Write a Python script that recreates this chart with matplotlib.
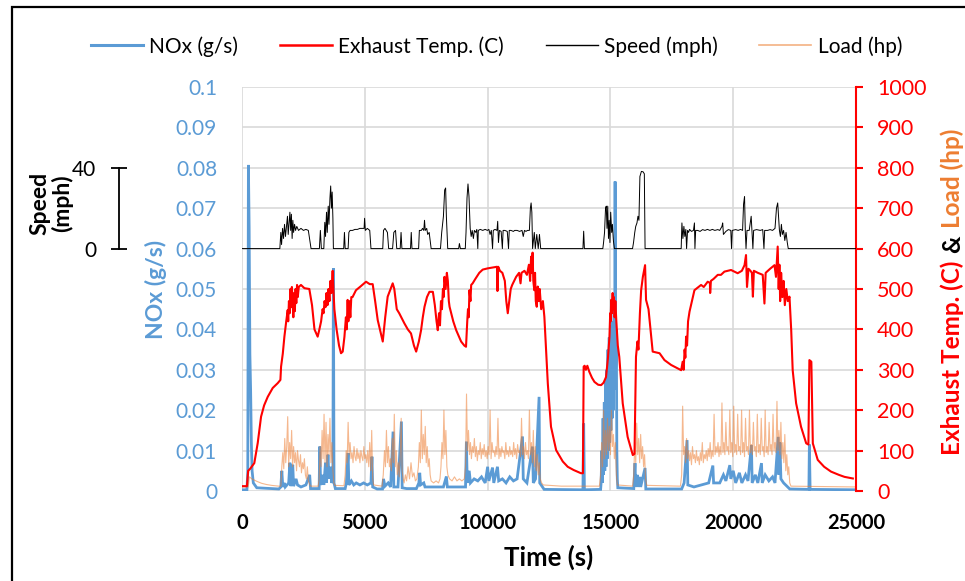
import matplotlib
matplotlib.use("Agg")
import matplotlib.pyplot as plt
from matplotlib.patches import Rectangle

plt.rcParams['font.family'] = 'Lato'

BLUE = '#5B9BD5'
RED = '#FF0000'
ORANGE = '#ED7D31'

# ---------------- data ----------------
nox_t = [0, 200, 235, 260, 290, 320, 350, 380, 410, 460, 600, 1500, 1580, 1620, 1660, 1720, 1760,
         1900, 1950, 1990, 2065, 2100, 2200, 2260, 2400, 2600, 2755, 2790, 3140, 3165, 3200, 3300,
         3330, 3400, 3440, 3500, 3540, 3600, 3650, 3700, 3720, 3745, 3800, 4200, 4250, 4320, 4350,
         4450, 4550, 4650, 4800, 4950, 5100, 5250, 5290, 5320, 5500, 5720, 5760, 5820, 5950, 6050,
         6150, 6180, 6350, 6490, 6520, 6700, 7100, 7200, 7235, 7270, 7400, 7450, 7650, 8200, 8320,
         8360, 9100, 9135, 9170, 9250, 9300, 9450, 9600, 9750, 9900, 10000, 10050, 10200, 10250,
         10400, 10450, 10600, 10750, 10900, 11050, 11200, 11420, 11450, 11600, 11825, 11860, 11950,
         12095, 12120, 12300, 13880, 13910, 13940, 14600,
         14620, 14650, 14670, 14700, 14720, 14750, 14770, 14800, 14820, 14850, 14870, 14900, 14920,
         14950, 14970, 15000, 15020, 15050, 15070, 15100, 15120, 15150, 15170, 15190, 15210, 15240,
         15260, 15280, 15300, 15950, 16000, 16030, 16100, 16130, 16200, 16230, 16410, 16440, 17900,
         18000, 18120, 18150, 18400, 18700, 19000, 19170, 19200, 19450, 19600, 19700, 19860, 19900,
         20000, 20100, 20250, 20350, 20500, 20600, 20740, 20770, 20900, 21000, 21150, 21180, 21300,
         21450, 21600, 21700, 21830, 21860, 21900, 21940, 22050, 22300, 23080, 23100, 23130, 25000]
nox_gs = [0.0003, 0.0003, 0.005, 0.0807, 0.065, 0.034, 0.025, 0.012, 0.005, 0.002, 0.0008, 0.0005,
          0.001, 0.005, 0.001, 0.002, 0.001, 0.002, 0.007, 0.0012, 0.0065, 0.0012, 0.003, 0.0015,
          0.001, 0.0015, 0.004, 0.0006, 0.0006, 0.011, 0.0015, 0.004, 0.0015, 0.007, 0.002, 0.009,
          0.003, 0.006, 0.002, 0.003, 0.0551, 0.002, 0.0006, 0.0006, 0.002, 0.0094, 0.0015, 0.0025,
          0.0015, 0.002, 0.0015, 0.002, 0.0015, 0.002, 0.0085, 0.001, 0.0005, 0.0005, 0.003, 0.0012,
          0.002, 0.001, 0.0147, 0.001, 0.001, 0.0172, 0.0008, 0.0006, 0.0006, 0.002, 0.0045, 0.0015,
          0.002, 0.001, 0.001, 0.001, 0.0036, 0.001, 0.001, 0.0122, 0.002, 0.005, 0.002, 0.003,
          0.0025, 0.0035, 0.002, 0.006, 0.0025, 0.0058, 0.002, 0.006, 0.0025, 0.003, 0.002, 0.0035,
          0.0025, 0.003, 0.0135, 0.003, 0.002, 0.011, 0.002, 0.003, 0.0233, 0.002, 0.0004, 0.0003,
          0.0167, 0.0003, 0.0004,
          0.002, 0.01, 0.002, 0.018, 0.004, 0.022, 0.005, 0.027, 0.006, 0.03, 0.008, 0.035, 0.01,
          0.038, 0.012, 0.04, 0.015, 0.041, 0.018, 0.042, 0.02, 0.045, 0.025, 0.0766, 0.03, 0.04,
          0.01, 0.003, 0.0008, 0.0006, 0.0069, 0.001, 0.004, 0.001, 0.0035, 0.001, 0.0057, 0.0005,
          0.0005, 0.002, 0.0126, 0.0015, 0.001, 0.0015, 0.002, 0.0063, 0.002, 0.002, 0.004, 0.0025,
          0.0064, 0.003, 0.005, 0.002, 0.0045, 0.002, 0.004, 0.0025, 0.0114, 0.002, 0.004, 0.002,
          0.0069, 0.002, 0.004, 0.0025, 0.0035, 0.002, 0.0134, 0.004, 0.012, 0.003, 0.002, 0.0005,
          0.0004, 0.0115, 0.0004, 0.0003]

temp_t = [0, 200, 250, 330, 500, 640, 775, 900, 1046, 1250, 1454, 1563, 1590, 1660, 1725, 1800,
          1860, 1880, 1910, 1940, 1970, 2000, 2030, 2060, 2090, 2120, 2150, 2180, 2210, 2240, 2270,
          2310, 2400, 2540, 2740, 2850, 2950, 3080, 3150, 3220, 3280, 3320, 3360, 3400, 3440, 3480,
          3520, 3560, 3600, 3640, 3690, 3720, 3760, 3850, 3950, 4030, 4100, 4170, 4230, 4260, 4300,
          4330, 4370, 4410, 4450, 4500, 4640, 4800, 5050, 5200, 5320, 5420, 5525, 5650, 5730, 5830,
          5930, 6135, 6200, 6300, 6400, 6540, 6610, 6750, 6880, 7000, 7090, 7200, 7290, 7360, 7430,
          7530, 7630, 7770, 7850, 7920, 7970, 8020, 8060, 8100, 8140, 8180, 8210, 8240, 8290, 8340,
          8380, 8420, 8450, 8600, 8720, 8920, 9050, 9120, 9170, 9200, 9230, 9260, 9300, 9330, 9390,
          9500, 9660, 9800, 10000, 10200, 10380, 10400, 10430, 10500, 10600, 10700, 10760, 10820,
          10880, 10940, 11000, 11160, 11280, 11340, 11380, 11500, 11600, 11680, 11730, 11770, 11800,
          11830, 11860, 11900, 11930, 11960, 12000, 12040, 12080, 12120, 12180, 12250, 12310, 12380,
          12450, 12580, 12790, 13060, 13260, 13500, 13800, 13880, 13910, 13950, 14000, 14060, 14140,
          14250, 14350, 14500, 14620, 14720, 14820, 14900, 14960, 14990, 15010, 15030, 15060, 15090,
          15110, 15140, 15170, 15200, 15240, 15300, 15360, 15500, 15700, 15910, 15980, 16040, 16100,
          16140, 16200, 16250, 16320, 16410, 16450, 16550, 16720, 17000, 17200, 17470, 17880, 17940,
          17980, 18020, 18050, 18080, 18120, 18160, 18220, 18420, 18690, 18800, 18960, 19050, 19060,
          19090, 19200, 19370, 19500, 19640, 19910, 20180, 20350, 20460, 20520, 20560, 20620, 20700,
          20760, 20800, 20840, 21000, 21200, 21270, 21320, 21500, 21680, 21740, 21810, 21850, 21880,
          21910, 21950, 22000, 22050, 22100, 22160, 22220, 22290, 22360, 22420, 22560, 22760, 22970,
          23060, 23100, 23180, 23240, 23440, 23700, 23980, 24300, 24530, 24870]
temp_c = [12, 12, 50, 55, 69, 119, 184, 212, 233, 255, 267, 275, 308, 340, 382, 420, 448, 420, 470,
          440, 500, 455, 505, 470, 430, 490, 445, 500, 465, 510, 480, 505, 510, 502, 500, 460, 400,
          382, 400, 420, 450, 440, 470, 455, 490, 460, 500, 470, 520, 490, 545, 500, 450, 400, 360,
          341, 345, 382, 430, 400, 473, 420, 470, 430, 480, 480, 497, 505, 518, 512, 512, 470, 423,
          390, 370, 430, 481, 514, 500, 450, 440, 423, 415, 400, 390, 360, 345, 370, 398, 430, 456,
          480, 493, 493, 460, 420, 398, 440, 410, 470, 450, 500, 480, 530, 500, 540, 520, 470, 456,
          420, 398, 370, 360, 357, 420, 450, 430, 497, 470, 510, 514, 525, 540, 548, 551, 553, 555,
          495, 555, 545, 540, 520, 470, 440, 470, 500, 510, 530, 540, 514, 540, 545, 535, 560, 520,
          580, 540, 590, 520, 497, 540, 470, 456, 506, 470, 500, 450, 470, 431, 349, 266, 159, 101,
          73, 60, 52, 44, 44, 308, 310, 300, 310, 295, 280, 270, 263, 262, 268, 282, 330, 382, 440,
          420, 473, 440, 490, 450, 480, 430, 470, 420, 360, 332, 217, 134, 89, 92, 332, 370, 350,
          440, 497, 530, 559, 473, 450, 345, 341, 324, 312, 299, 320, 300, 350, 330, 382, 360, 420,
          444, 497, 510, 505, 518, 515, 490, 520, 525, 535, 535, 543, 547, 539, 545, 559, 584, 505,
          550, 545, 540, 481, 545, 540, 535, 464, 540, 550, 559, 530, 605, 500, 560, 470, 540, 480,
          520, 460, 500, 470, 481, 398, 299, 217, 159, 118, 115, 324, 320, 118, 77, 60, 48, 40, 35,
          31]

speed_t = [0, 1540, 1580, 1610, 1650, 1690, 1730, 1770, 1810, 1850, 1880, 1920, 1950, 1980, 2010,
           2040, 2070, 2100, 2140, 2180, 2230, 2300, 2400, 2500, 2600, 2700, 2760, 2810, 3150, 3190,
           3230, 3330, 3370, 3400, 3440, 3470, 3510, 3540, 3580, 3610, 3640, 3670, 3700, 3720, 4140,
           4170, 4200, 4320, 4350, 4400, 4500, 4600, 4700, 4800, 4900, 4970, 4990, 5020, 5100, 5200,
           5250, 5730, 5760, 5820, 5870, 5920, 5970, 6130, 6180, 6250, 6300, 6440, 6475, 6510, 6860,
           6890, 6920, 7190, 7220, 7300, 7350, 7400, 7430, 7460, 7520, 7560, 7620, 7700, 8080, 8130,
           8200, 8250, 8290, 8320, 8375, 8820, 8850, 8890, 9090, 9120, 9160, 9200, 9240, 9290, 9330,
           9370, 9420, 9460, 9520, 9560, 9600, 9620, 9700, 9800, 9900, 9990, 10050, 10100, 10150,
           10200, 10230, 10300, 10380, 10410, 10440, 10480, 10550, 10600, 10630, 10700, 10800, 10850,
           10880, 10950, 11050, 11100, 11200, 11300, 11400, 11450, 11500, 11560, 11620, 11700, 11740,
           11770, 11800, 11830, 11900, 11940, 12000, 12060, 12110, 12160, 12310, 13880, 13910, 13940,
           14690, 14720, 14760, 14800, 14830, 14860, 14890, 14920, 14950, 14980, 15010, 15050, 15080,
           15120, 15160, 15900, 15940, 15990, 16030, 16080, 16120, 16160, 16200, 16260, 16330, 16380,
           16410, 17880, 17910, 17950, 17990, 18030, 18070, 18100, 18140, 18180, 18220, 18300, 18380,
           18420, 18440, 18470, 18550, 18650, 18750, 18850, 18950, 19050, 19150, 19250, 19370, 19450,
           19540, 19570, 19600, 19700, 19800, 19900, 19930, 19960, 20100, 20200, 20300, 20380, 20420,
           20460, 20490, 20520, 20560, 20650, 20730, 20760, 20800, 20830, 20950, 21100, 21200, 21250,
           21280, 21400, 21500, 21600, 21700, 21760, 21810, 21850, 21880, 21920, 21960, 22000, 22050,
           22100, 22150, 22200, 22240, 25000]
speed_mph = [0, 0, 8, 2, 10, 5, 12, 6, 11, 16, 7, 13, 18, 9, 17, 5, 14, 8, 12, 9, 11, 9, 10, 9,
             9.5, 9, 4, 0, 0, 9, 0, 0, 13, 6, 18, 8, 21, 12, 25, 31, 20, 28, 15, 0, 0, 8, 0, 0, 8, 9,
             9, 9.5, 9.5, 10, 10, 10, 15, 9, 10, 9, 0, 0, 9, 10, 9, 8, 0, 0, 8, 9, 0, 0, 8, 0, 0, 8,
             0, 0, 9, 9, 10, 9, 14, 9, 10, 7, 8, 0, 0, 8, 16, 29, 30, 16, 0, 0, 2.5, 0, 0, 8, 25, 32,
             26, 10, 6, 9, 5, 9, 8, 9.5, 0, 9, 9.5, 9, 9.5, 9, 9.5, 7, 9, 0, 9, 9.5, 9, 13.5, 3, 9,
             8.5, 0, 9, 9, 8.5, 0, 9, 9, 8.5, 9, 9, 8.5, 9, 6, 9, 8.5, 9, 9, 20, 22.6, 18, 0, 8, 0,
             7, 0, 7, 0, 0, 0, 8.6, 0, 0, 3, 8, 20, 21, 10, 21, 5, 14, 3, 18, 8, 12, 4, 0, 0, 3, 8,
             11, 12.7, 16, 14, 35.7, 38.2, 38, 37, 0, 0, 12.7, 5, 11, 6, 9.5, 0, 9, 8, 9.5, 8.5, 9,
             12.7, 0, 9, 9, 8.5, 9.4, 9, 9.5, 9, 9.5, 9, 9.4, 9, 11, 12.7, 7, 8.5, 9.4, 9, 0, 9, 9.4,
             9, 9.5, 9, 22, 25.8, 9, 0, 9, 9, 16, 9, 0, 9, 9.4, 9, 9.4, 0, 9, 9, 9.4, 9, 10, 20,
             22.6, 15, 9, 6, 12, 7, 9, 4, 8, 3, 0, 0]

load_t = [0, 250, 300, 400, 600, 800, 1000, 1200, 1500, 1580, 1620, 1660, 1700, 1740, 1780, 1820,
          1860, 1900, 1940, 1980, 2020, 2060, 2100, 2140, 2180, 2220, 2260, 2300, 2340, 2380, 2420,
          2460, 2500, 2540, 2580, 2620, 2660, 2700, 2760, 2800, 3100, 3140, 3180, 3220, 3260, 3300,
          3340, 3380, 3420, 3460, 3500, 3540, 3580, 3620, 3660, 3700, 3740, 3780, 4150, 4200, 4240,
          4280, 4320, 4360, 4400, 4440, 4480, 4520, 4560, 4600, 4640, 4680, 4720, 4760, 4800, 4840,
          4880, 4920, 4960, 5000, 5040, 5080, 5120, 5160, 5200, 5240, 5280, 5320, 5360, 5700, 5750,
          5800, 5840, 5880, 5920, 5960, 6000, 6040, 6080, 6120, 6160, 6200, 6240, 6280, 6320, 6360,
          6400, 6440, 6480, 6520, 6560, 6600, 6650, 6700, 6760, 6820, 6880, 6940, 7000, 7060, 7120,
          7180, 7220, 7260, 7300, 7340, 7380, 7420, 7460, 7500, 7540, 7580, 7620, 7660, 7700, 7800,
          7900, 8000, 8060, 8100, 8140, 8180, 8220, 8260, 8300, 8340, 8380, 8450, 8550, 8650, 8750,
          8850, 8950, 9050, 9100, 9140, 9180, 9220, 9260, 9300, 9340, 9380, 9420, 9460, 9500, 9540,
          9580, 9620, 9660, 9700, 9740, 9780, 9820, 9860, 9900, 9940, 9980, 10020, 10060, 10100,
          10140, 10180, 10220, 10260, 10300, 10340, 10380, 10420, 10460, 10500, 10540, 10580, 10620,
          10660, 10700, 10740, 10780, 10820, 10860, 10900, 10940, 10980, 11020, 11060, 11100, 11140,
          11180, 11220, 11260, 11300, 11340, 11380, 11420, 11460, 11500, 11540, 11580, 11620, 11660,
          11700, 11740, 11780, 11820, 11860, 11900, 11940, 11980, 12020, 12060, 12100, 12140, 12200,
          12260, 13000, 14000, 14550, 14600, 14640, 14680, 14720, 14760, 14800, 14840, 14880, 14920,
          14960, 15000, 15040, 15080, 15120, 15160, 15200, 15240, 15280, 15900, 15950, 15990, 16030,
          16070, 16110, 16150, 16190, 16230, 16270, 16310, 16350, 16390, 16430, 16480, 17850, 17900,
          17940, 17980, 18020, 18060, 18100, 18140, 18180, 18220, 18260, 18300, 18340, 18380, 18420,
          18460, 18500, 18540, 18580, 18620, 18660, 18700, 18740, 18780, 18820, 18860, 18900, 18940,
          18980, 19020, 19060, 19100, 19140, 19180, 19220, 19260, 19300, 19340, 19380, 19420, 19460,
          19500, 19540, 19580, 19620, 19660, 19700, 19740, 19780, 19820, 19860, 19900, 19940, 19980,
          20020, 20060, 20100, 20140, 20180, 20220, 20260, 20300, 20340, 20380, 20420, 20460, 20500,
          20540, 20580, 20620, 20660, 20700, 20740, 20780, 20820, 20860, 20900, 20940, 20980, 21020,
          21060, 21100, 21140, 21180, 21220, 21260, 21300, 21340, 21380, 21420, 21460, 21500, 21540,
          21580, 21620, 21660, 21700, 21740, 21780, 21820, 21860, 21900, 21940, 21980, 22020, 22060,
          22100, 22140, 22180, 22220, 22260, 22300, 22350, 25000]
load_hp = [10, 10, 35, 30, 24, 19, 16, 14, 12, 12, 60, 95, 55, 130, 70, 110, 184, 60, 120, 80, 150,
           60, 110, 70, 95, 50, 100, 75, 60, 90, 45, 70, 55, 80, 40, 30, 60, 25, 15, 12, 12, 30, 110,
           60, 150, 80, 190, 70, 170, 60, 140, 90, 180, 70, 120, 50, 20, 14, 13, 40, 100, 70, 170,
           90, 120, 80, 95, 70, 110, 85, 75, 105, 80, 95, 70, 100, 85, 75, 110, 80, 90, 70, 100, 60,
           120, 50, 150, 30, 15, 12, 40, 100, 60, 150, 70, 110, 60, 80, 50, 130, 70, 190, 60, 100,
           40, 70, 35, 90, 180, 50, 30, 20, 40, 25, 60, 30, 70, 35, 45, 25, 30, 60, 120, 70, 200, 80,
           140, 90, 160, 70, 110, 60, 80, 40, 25, 20, 25, 20, 30, 60, 120, 80, 200, 90, 150, 60, 40,
           30, 25, 35, 25, 30, 25, 30, 60, 240, 100, 150, 90, 120, 80, 110, 95, 130, 85, 110, 75,
           100, 90, 120, 80, 105, 90, 115, 85, 100, 80, 110, 90, 200, 80, 120, 95, 100, 85, 110, 90,
           180, 80, 105, 85, 110, 95, 100, 80, 120, 90, 100, 85, 110, 90, 100, 85, 120, 90, 105, 80,
           115, 95, 100, 85, 180, 90, 110, 80, 120, 90, 100, 80, 200, 90, 120, 70, 150, 60, 110, 50,
           90, 40, 70, 30, 20, 15, 12, 12, 12, 40, 120, 60, 200, 80, 150, 90, 180, 100, 160, 90, 200,
           110, 140, 80, 120, 40, 15, 12, 40, 120, 70, 168, 90, 130, 70, 140, 80, 110, 60, 90, 30,
           14, 12, 40, 210, 90, 110, 70, 130, 80, 100, 75, 95, 65, 110, 80, 90, 70, 100, 75, 85, 65,
           95, 75, 120, 70, 90, 80, 100, 75, 105, 85, 120, 80, 100, 85, 190, 90, 110, 95, 120, 85,
           110, 90, 218, 95, 120, 90, 170, 100, 110, 90, 200, 95, 120, 85, 210, 95, 115, 90, 190,
           100, 110, 90, 200, 95, 120, 85, 180, 100, 110, 90, 200, 95, 115, 90, 170, 100, 110, 85,
           190, 95, 115, 90, 180, 100, 110, 85, 200, 95, 110, 90, 170, 100, 115, 90, 190, 100, 120,
           95, 222, 100, 150, 90, 170, 80, 120, 70, 140, 50, 90, 40, 60, 20, 12, 10]

time_ticks = [0, 5000, 10000, 15000, 20000, 25000]
nox_ticks = [0, 0.01, 0.02, 0.03, 0.04, 0.05, 0.06, 0.07, 0.08, 0.09, 0.1]
nox_labels = ['0', '0.01', '0.02', '0.03', '0.04', '0.05', '0.06', '0.07', '0.08', '0.09', '0.1']
temp_ticks = [0, 100, 200, 300, 400, 500, 600, 700, 800, 900, 1000]

# ---------------- figure ----------------
fig = plt.figure(figsize=(9.65, 5.81), dpi=100)
fig.patches.append(Rectangle((12 / 965, -0.1), 1.2, 1.1 - 7 / 581, transform=fig.transFigure,
                             fill=False, edgecolor='black', linewidth=1.6))

ax = fig.add_axes([0.2508, 0.1549, 0.6363, 0.6954])
ax.plot(nox_t, nox_gs, color=BLUE, linewidth=2.0, solid_joinstyle='miter')
ax.set_xlim(0, 25000)
ax.set_ylim(0, 0.1)
ax.set_xticks(time_ticks)
ax.set_yticks(nox_ticks)
ax.set_yticklabels(nox_labels)
ax.grid(True, color='#D9D9D9', linewidth=1.2)
ax.set_axisbelow(True)
for s in ax.spines.values():
    s.set_visible(False)
ax.tick_params(axis='y', length=0, colors=BLUE, labelsize=15, pad=18)
ax.tick_params(axis='x', length=0, labelsize=14.5, pad=16)
for lab in ax.get_xticklabels():
    lab.set_fontweight('bold')
ax.set_xlabel('Time (s)', fontsize=18.5, fontweight='bold', labelpad=8)
ax.set_ylabel('NOx (g/s)', fontsize=16.5, fontweight='bold', color=BLUE, labelpad=6)

# exhaust temperature and load on the right axis
ax2 = ax.twinx()
ax2.plot(load_t, load_hp, color=ORANGE, linewidth=0.8, alpha=0.55)
ax2.plot(temp_t, temp_c, color=RED, linewidth=1.5)
ax2.set_ylim(0, 1000)
ax2.set_yticks(temp_ticks)
for name, s in ax2.spines.items():
    s.set_visible(name == 'right')
ax2.spines['right'].set_color(RED)
ax2.spines['right'].set_linewidth(1.5)
ax2.tick_params(axis='y', colors=RED, labelsize=15.5, length=5, width=1.5, pad=10)

# speed on its own small scale bar
ax3 = ax.twinx()
ax3.plot(speed_t, speed_mph, color='black', linewidth=0.7)
ax3.set_ylim(-120, 80)
for name, s in ax3.spines.items():
    s.set_visible(name == 'left')
ax3.spines['left'].set_position(('axes', -0.2))
ax3.spines['left'].set_bounds(0, 40)
ax3.spines['left'].set_linewidth(1.3)
ax3.yaxis.set_ticks_position('left')
ax3.set_yticks([0, 40])
ax3.tick_params(axis='y', direction='inout', length=11, width=1.3, labelsize=15, pad=11)
fig.text(0.053, 0.65, 'Speed\n(mph)', rotation=90, fontsize=16.5, fontweight='bold',
         ha='center', va='center', linespacing=1.0)

# legend
handles = [plt.Line2D([], [], color=BLUE, linewidth=2.2),
           plt.Line2D([], [], color=RED, linewidth=1.8),
           plt.Line2D([], [], color='black', linewidth=1.0),
           plt.Line2D([], [], color='#F4B183', linewidth=1.2)]
fig.legend(handles, ['NOx (g/s)', 'Exhaust Temp. (C)', 'Speed (mph)', 'Load (hp)'],
           loc='center', bbox_to_anchor=(0.5145, 0.92), ncol=4, frameon=False, fontsize=15,
           handlelength=2.5, handletextpad=0.3, columnspacing=2.0)

# right axis title in three colours
renderer = fig.canvas.get_renderer()
y0 = 0.217
for txt, col in [('Exhaust Temp. (C)', RED), ('&', 'black'), ('Load (hp)', ORANGE)]:
    t = fig.text(0.987, y0, txt, rotation=90, color=col, fontsize=17.5, fontweight='bold',
                 ha='center', va='bottom')
    bb = t.get_window_extent(renderer)
    y0 = bb.y1 / fig.bbox.height + 0.013

fig.savefig('out.png', dpi=100)
